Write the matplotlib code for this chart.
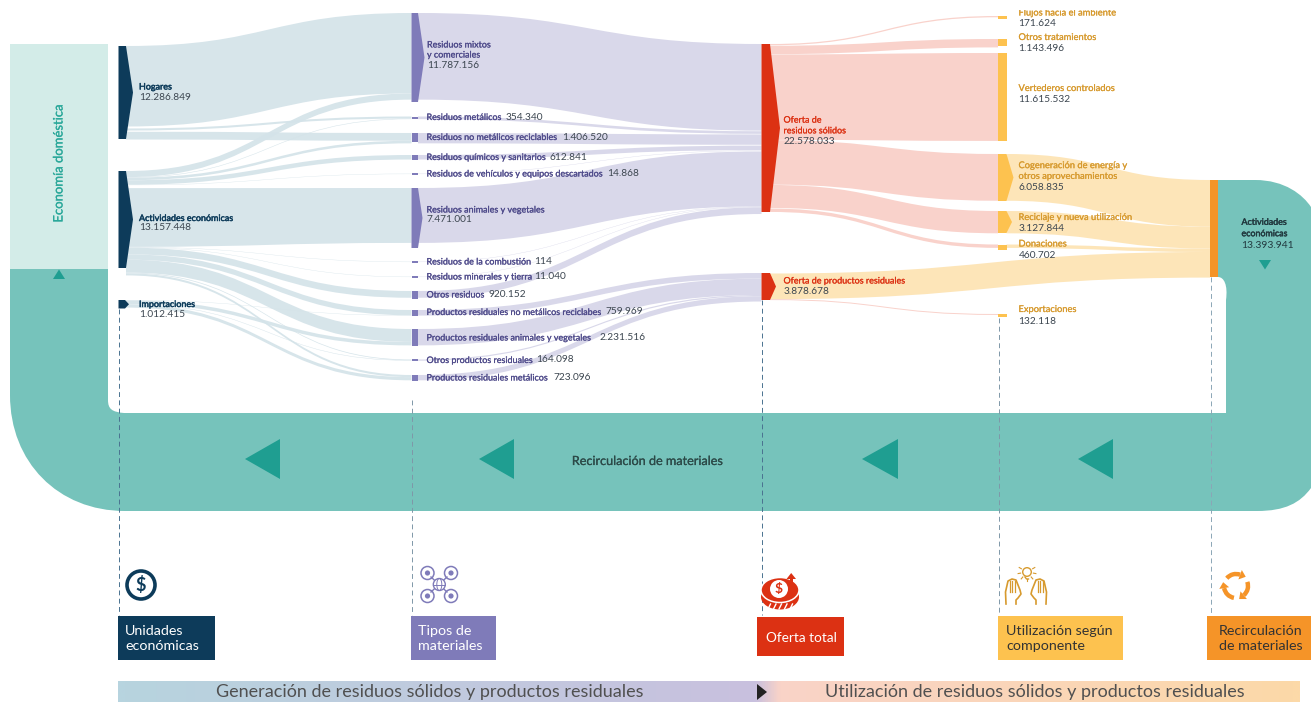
import numpy as np
import matplotlib
matplotlib.use("Agg")
import matplotlib.pyplot as plt
import matplotlib.patheffects as pe
from matplotlib.path import Path
from matplotlib.patches import PathPatch, Polygon, Rectangle, Circle, Ellipse, Arc
from matplotlib.colors import LinearSegmentedColormap

plt.rcParams['font.family'] = ['Lato', 'DejaVu Sans']

# ---------- data ----------
units = ["Hogares", "Actividades económicas", "Importaciones"]
unit_values = [12286849, 13157448, 1012415]
materials = ["Residuos mixtos\ny comerciales", "Residuos metálicos", "Residuos no metálicos reciclables",
             "Residuos químicos y sanitarios", "Residuos de vehículos y equipos descartados",
             "Residuos animales y vegetales", "Residuos de la combustión", "Residuos minerales y tierra",
             "Otros residuos", "Productos residuales no metálicos reciclabes",
             "Productos residuales animales y vegetales", "Otros productos residuales",
             "Productos residuales metálicos"]
material_values = [11787156, 354340, 1406520, 612841, 14868, 7471001, 114, 11040, 920152,
                   759969, 2231516, 164098, 723096]
supply = ["Oferta de\nresiduos sólidos", "Oferta de productos residuales"]
supply_values = [22578033, 3878678]
uses = ["Flujos hacia el ambiente", "Otros tratamientos", "Vertederos controlados",
        "Cogeneración de energía y\notros aprovechamientos", "Reciclaje y nueva utilización",
        "Donaciones", "Exportaciones"]
use_values = [171624, 1143496, 11615532, 6058835, 3127844, 460702, 132118]
recirculation_value = 13393941
hogares_split = [10950000, 280000, 1056849]
actividades_split = [837156, 74340, 349671, 612841, 14868, 7471001, 114, 11040, 920152,
                     730000, 1750000, 100000, 286265]
importaciones_split = [29969, 481516, 64098, 436831]
pr_to_recirculation = 3746560
bottom_titles = ["Unidades\neconómicas", "Tipos de\nmateriales", "Oferta total",
                 "Utilización según\ncomponente", "Recirculación\nde materiales"]
band_titles = ["Generación de residuos sólidos y productos residuales",
               "Utilización de residuos sólidos y productos residuales"]

# ---------- layout / style ----------
SCALE = 7.35e-6
NAVY, PURPLE, RED, YEL, ORG = "#0d3b5a", "#7f7bb9", "#dc3113", "#fdc24f", "#f59428"
F_NAVY, F_PURPLE, F_RED, F_YEL = "#d4e3e9", "#d9d8ea", "#f9d2cb", "#fde5b8"
TEAL, TEAL_L, TEAL_D = "#76c3bb", "#d3ece8", "#1f9e91"
INK = "#3c4650"
ICON_Y = "#d79a2e"

fig = plt.figure(figsize=(13.11, 7.02), dpi=100)
ax = fig.add_axes([0, 0, 1, 1])
ax.set_xlim(0, 1311)
ax.set_ylim(702, 0)
ax.axis("off")

nodes = {}
def add_node(key, x, top, h, w, tip, col):
    nodes[key] = dict(x=x, top=top, h=h, w=w, tip=tip, col=col, out=top, inn=top)

for k, t, h, tip in zip(units, [46, 171, 300], [93, 97, 8.5], [133, 133, 129]):
    add_node(k, 118.5, t, h, 7.5 if tip > 130 else 6.5, tip, NAVY)
mat_tops = [13, 116.5, 133, 155, 173, 188, 261, 276, 291, 310, 329, 359, 375]
mat_h = [89, 2.5, 8.5, 4.5, 2, 60, 2, 2, 7.5, 5.5, 17, 2, 5.5]
mat_flow_tops = [13, 116.5, 133, 155, 173.7, 188, 261.7, 276.7, 291, 310, 329, 359.5, 375]
mat_tip = [424.5, 0, 0, 0, 0, 422.5, 0, 0, 0, 0, 0, 0, 0]
for k, t, h, tip, ft in zip(materials, mat_tops, mat_h, mat_tip, mat_flow_tops):
    add_node(k, 411.5, t, h, 6.5, tip, PURPLE)
    nodes[k]["out"] = nodes[k]["inn"] = ft
add_node(supply[0], 761.5, 44, 168, 8.5, 780, RED)
add_node(supply[1], 761.5, 273, 27, 8.5, 776, RED)
nodes[supply[1]]["out"] = 273.5
use_tops = [16, 39, 53, 154, 211, 244.5, 314]
use_h = [2.5, 7, 88, 47, 22, 5, 3]
use_tip = [0, 0, 0, 1013.5, 1012, 0, 0]
for k, t, h, tip in zip(uses, use_tops, use_h, use_tip):
    add_node(k, 998, t, h, 8.5, tip, YEL)
RECIRC = "Actividades económicas (recirculación)"
add_node(RECIRC, 1210, 180, 97, 8, 0, ORG)

# ---------- background band ----------
bg = Path(
    [(10, 269), (108, 269), (108, 400), (108, 409), (112, 412), (124, 413), (1226, 413),
     (1226, 300), (1228, 285), (1224, 277), (1218, 277), (1218, 180), (1255, 180),
     (1285, 180), (1303, 195), (1311, 207), (1311, 488), (1300, 503), (1285, 511), (1257, 511),
     (125, 511), (58, 511), (10, 462), (10, 395), (10, 269)],
    [Path.MOVETO, Path.LINETO, Path.LINETO, Path.CURVE4, Path.CURVE4, Path.CURVE4, Path.LINETO,
     Path.LINETO, Path.CURVE4, Path.CURVE4, Path.CURVE4, Path.LINETO, Path.LINETO,
     Path.CURVE4, Path.CURVE4, Path.CURVE4, Path.LINETO, Path.CURVE4, Path.CURVE4, Path.CURVE4,
     Path.LINETO, Path.CURVE4, Path.CURVE4, Path.CURVE4, Path.CLOSEPOLY])
ax.add_patch(PathPatch(bg, fc=TEAL, ec="none", zorder=1))
ax.add_patch(Rectangle((10, 44), 98, 225, fc=TEAL_L, ec="none", zorder=1))
ax.add_patch(Polygon([(53, 279), (65, 279), (59, 269.5)], fc=TEAL_D, ec="none", zorder=2))
ax.add_patch(Polygon([(1259, 260), (1271, 260), (1265, 269.5)], fc=TEAL_D, ec="none", zorder=2))
for xr in [(245, 280), (479, 514), (862, 898), (1078, 1113)]:
    ax.add_patch(Polygon([(xr[1], 439), (xr[1], 479), (xr[0], 459)], fc=TEAL_D, ec="none", zorder=2))

# ---------- flows ----------
def ribbon(src, dst, value, col, gap_src=0, gap_dst=0, stretch=1.0, stretch_dst=1.0, z=3):
    s, d = nodes[src], nodes[dst]
    w0 = max(value * SCALE * stretch, 0.35)
    w1 = max(value * SCALE * stretch_dst, 0.35)
    s["out"] += gap_src
    d["inn"] += gap_dst
    y0, y1 = s["out"], d["inn"]
    s["out"] += w0
    d["inn"] += w1
    x0, x1 = s["x"] + s["w"], d["x"]
    xm = (x0 + x1) / 2
    verts = [(x0, y0), (xm, y0), (xm, y1), (x1, y1), (x1, y1 + w1),
             (xm, y1 + w1), (xm, y0 + w0), (x0, y0 + w0), (x0, y0)]
    codes = [Path.MOVETO, Path.CURVE4, Path.CURVE4, Path.CURVE4, Path.LINETO,
             Path.CURVE4, Path.CURVE4, Path.CURVE4, Path.CLOSEPOLY]
    ax.add_patch(PathPatch(Path(verts, codes), fc=col, ec="none", alpha=0.93 if col == F_NAVY else 1, zorder=z))

for m, v, g in zip(materials[:3], hogares_split, [0, 2, 1.2]):
    ribbon(units[0], m, v, F_NAVY, gap_src=g)
for i, (m, v) in enumerate(zip(materials, actividades_split)):
    ribbon(units[1], m, v, F_NAVY, gap_src=3 if i == 5 else 0, stretch=1.07 if i == 5 else 1)
for m, v in zip(materials[9:], importaciones_split):
    ribbon(units[2], m, v, F_NAVY)

solid_gaps = [0, .6, .6, .8, .4, .6, 0, 0, .2]
for m, v, g in zip(materials[:9], material_values[:9], solid_gaps):
    ribbon(m, supply[0], v, F_PURPLE, gap_dst=g)
for m, v in zip(materials[9:], material_values[9:]):
    ribbon(m, supply[1], v, F_PURPLE)

dst_stretch = [1, 1, 1.03, 1.05, 0.97, 1]
for u, v, g, st in zip(uses[:6], use_values[:6], [0, .5, .3, .3, .3, .6], dst_stretch):
    ribbon(supply[0], u, v, F_RED, gap_src=g, stretch_dst=st)
ribbon(uses[3], RECIRC, use_values[3], F_YEL, stretch=1.05, stretch_dst=1.05)
ribbon(uses[4], RECIRC, use_values[4], F_YEL, stretch=0.97, stretch_dst=0.95)
ribbon(uses[5], RECIRC, use_values[5], F_YEL)
ribbon(supply[1], RECIRC, pr_to_recirculation, F_YEL, stretch=0.93, stretch_dst=0.93)
ribbon(supply[1], uses[6], use_values[6], F_RED)

# ---------- nodes ----------
for k, n in nodes.items():
    x, t, h, w, tip = n["x"], n["top"], n["h"], n["w"], n["tip"]
    if tip:
        pts = [(x, t), (x + w, t), (tip, t + h / 2), (x + w, t + h), (x, t + h)]
    else:
        pts = [(x, t), (x + w, t), (x + w, t + h), (x, t + h)]
    ax.add_patch(Polygon(pts, fc=n["col"], ec="none", zorder=5))

# ---------- labels ----------
NAME, NUM = 6.45, 7.3
def fmt(v):
    return f"{v:,}".replace(",", ".")
def heavy(col, w=0.15):
    return [pe.withStroke(linewidth=w, foreground=col)]
def name_text(x, y, s, col, fs=NAME, ls=1.15, w=0.15):
    ax.text(x, y, s, color=col, fontsize=fs, va="center", ha="left", linespacing=ls, zorder=7,
            path_effects=heavy(col, w))
def num_text(x, y, v, fs=NUM, col=INK):
    ax.text(x, y, fmt(v), color=col, fontsize=fs, va="center", ha="left", zorder=7)

name_text(139, 87, units[0], NAVY, w=0.3)
num_text(139, 97.5, unit_values[0])
name_text(139, 218.5, units[1], NAVY, w=0.3)
num_text(139, 228, unit_values[1])
name_text(139, 304.5, units[2], NAVY, w=0.3)
num_text(139, 314.5, unit_values[2])

MC = "#4e4a8a"
name_text(427, 50, materials[0], MC)
num_text(427, 65, material_values[0])
mat_y = [None, 117.5, 137.5, 157.5, 174, 210, 262, 277, 295, 312.5, 338, 360.5, 378]
mat_inline = [None, 505.5, 562.5, 550, 607, None, 534.5, 534.5, 488.5, 605.5, 600, 536.5, 553.5]
for i in range(1, 13):
    name_text(426.5, mat_y[i], materials[i], MC)
    if mat_inline[i] is None:
        num_text(426.5, mat_y[i] + 10, material_values[i])
    else:
        num_text(mat_inline[i], mat_y[i] - 0.5, material_values[i])

name_text(783.5, 125.5, supply[0], RED, ls=1.25)
num_text(783.5, 141.5, supply_values[0])
name_text(783.5, 281, supply[1], RED)
num_text(783.5, 291.5, supply_values[1])

use_y = [13, 37.5, 88.5, 171, 217.5, 244, 309.5]
use_dy = [11, 11, 11.5, 16.5, 11, 11, 11.5]
for u, v, y, d in zip(uses, use_values, use_y, use_dy):
    name_text(1018.5, y, u, ICON_Y, fs=6.7, ls=1.25)
    num_text(1018.5, y + d, v)

name_text(1241.5, 228, "Actividades\neconómicas", "#223a40", fs=6.4, ls=1.35, w=0.3)
num_text(1241.5, 245.5, recirculation_value, fs=7.4, col="#223a40")

ax.text(58.5, 164, "Economía doméstica", color="#2aa89a", fontsize=9.4, rotation=90, va="center", ha="center",
        zorder=7, path_effects=heavy("#2aa89a"))
ax.text(647.5, 461, "Recirculación de materiales", color="#2c4a48", fontsize=9.1, va="center", ha="center",
        zorder=7, path_effects=heavy("#2c4a48"))
ax.add_patch(Rectangle((990, 0), 200, 9.6, fc="white", ec="none", zorder=8))

# ---------- dashed guides ----------
for x, y0, col in [(118.5, 309, "#4a7290"), (411.5, 400, "#7f97a8"), (761.5, 300, "#4a7290"),
                   (998.5, 318, "#7f97a8"), (1210.5, 277, "#8ba6b6")]:
    ax.plot([x, x], [y0, 615], color=col, lw=0.7, dashes=(5, 3.5), zorder=6)

# ---------- bottom boxes ----------
boxes = [(118, 615.5, 97, 44, NAVY, "white", 125), (411, 615.5, 85, 44, PURPLE, "white", 418),
         (757, 617, 87, 39, RED, "white", 766), (998, 615.5, 125, 44, YEL, "#333333", 1006),
         (1207, 615.5, 104, 44, ORG, "#333333", 1219)]
box_fs = [10.3, 10.3, 9.8, 10.3, 10.3]
for (x, y, w, h, c, tc, tx), title, fs in zip(boxes, bottom_titles, box_fs):
    ax.add_patch(Rectangle((x, y), w, h, fc=c, ec="none", zorder=5))
    ax.text(tx, y + h / 2 + 1, title, color=tc, fontsize=fs, va="center", ha="left", linespacing=1.38, zorder=7)

# ---------- bottom band ----------
cm = LinearSegmentedColormap.from_list("b", ["#b7d4df", "#c9c0de", "#f9d3c8", "#fcd9a8"])
band = np.interp(np.linspace(0, 1, 400), [0, .54, .56, 1], [0, .33, .67, 1])[None, :]
ax.imshow(band, cmap=cm, vmin=0, vmax=1, extent=[118, 1300, 702, 681], aspect="auto", zorder=2)
ax.set_xlim(0, 1311)
ax.set_ylim(702, 0)
ax.add_patch(Polygon([(757, 684), (767, 692), (757, 700)], fc="#222222", ec="none", zorder=6))
ax.text(430, 692, band_titles[0], color="#505050", fontsize=13, va="center", ha="center", zorder=7)
ax.text(1035, 692, band_titles[1], color="#505050", fontsize=12.95, va="center", ha="center", zorder=7)

# ---------- icons ----------
ax.add_patch(Circle((141, 585), 14, fc="white", ec=NAVY, lw=2.6, zorder=6))
ax.text(141, 585, "$", color=NAVY, fontsize=13, weight="bold", ha="center", va="center", zorder=7)
for cx, cy in [(427.5, 573), (451, 573), (427.5, 596), (451, 596)]:
    ax.add_patch(Circle((cx, cy), 6.5, fc="white", ec=PURPLE, lw=1.1, zorder=6))
    ax.add_patch(Circle((cx, cy), 2.6, fc=PURPLE, ec="none", zorder=7))
for (a, b), (c, d) in [((431, 577), (447, 592)), ((447, 577), (431, 592))]:
    ax.plot([a, c], [b, d], color=PURPLE, lw=1, zorder=6)
ax.add_patch(Circle((439.3, 584.5), 6, fc="white", ec=PURPLE, lw=1, zorder=7))
ax.add_patch(Ellipse((439.3, 584.5), 5, 12, fc="none", ec=PURPLE, lw=.7, zorder=7))
ax.plot([433.5, 445], [584.5, 584.5], color=PURPLE, lw=.7, zorder=7)
# coin
ax.add_patch(Ellipse((780, 597), 38, 25, fc=RED, ec="none", zorder=6))
ax.add_patch(Ellipse((780, 590), 38, 25, fc=RED, ec="white", lw=1.1, zorder=6))
for sx in np.arange(768, 794, 5.5):
    ax.plot([sx, sx + 2.5], [609, 604], color="white", lw=1, zorder=7)
ax.add_patch(Circle((779, 589), 9, fc="white", ec="none", zorder=7))
ax.text(779, 589, "$", color=RED, fontsize=10, weight="bold", ha="center", va="center", zorder=8)
ax.add_patch(Rectangle((790, 577), 2.5, 10, fc=RED, ec="none", zorder=8))
ax.add_patch(Polygon([(786.5, 579), (796, 579), (791.2, 573)], fc=RED, ec="none", zorder=8))
# hands + bulb
ax.add_patch(Circle((1027, 572), 4.3, fc="none", ec=ICON_Y, lw=1, zorder=6))
ax.plot([1025, 1026.5, 1028.5], [577, 579, 579], color=ICON_Y, lw=1, zorder=6)
for a in np.deg2rad(np.arange(150, 400, 40)):
    ax.plot([1027 + 6.5 * np.cos(a), 1027 + 9 * np.cos(a)], [572 - 6.5 * np.sin(a), 572 - 9 * np.sin(a)],
            color=ICON_Y, lw=.8, zorder=6)
hand_x = np.array([-7, -7.5, -5, -1, 3, 5, 7, 8, 5, 3, 3])
hand_y = np.array([604, 592, 581, 579, 580, 585, 590, 594, 598, 600, 604])
for sx, xc in [(1, 1013), (-1, 1039)]:
    ax.plot(xc + sx * hand_x, hand_y, color=ICON_Y, lw=1.2, zorder=6)
    for dx in [-3.5, -1, 1.5]:
        ax.plot([xc + sx * dx] * 2, [581, 592], color=ICON_Y, lw=.9, zorder=6)
# recycle
for t0 in [-20, 100, 220]:
    ax.add_patch(Arc((1236, 586), 24, 24, theta1=t0, theta2=t0 + 70, ec=ORG, lw=3.2, zorder=6))
    a = np.deg2rad(t0 + 70)
    px, py = 1236 + 12 * np.cos(a), 586 + 12 * np.sin(a)
    ux, uy, nx, ny = -np.sin(a), np.cos(a), np.cos(a), np.sin(a)
    ax.add_patch(Polygon([(px + 6 * ux, py + 6 * uy), (px + 5 * nx, py + 5 * ny), (px - 5 * nx, py - 5 * ny)],
                         fc=ORG, ec="none", zorder=6))

fig.savefig("out.png", dpi=100, facecolor="white")
